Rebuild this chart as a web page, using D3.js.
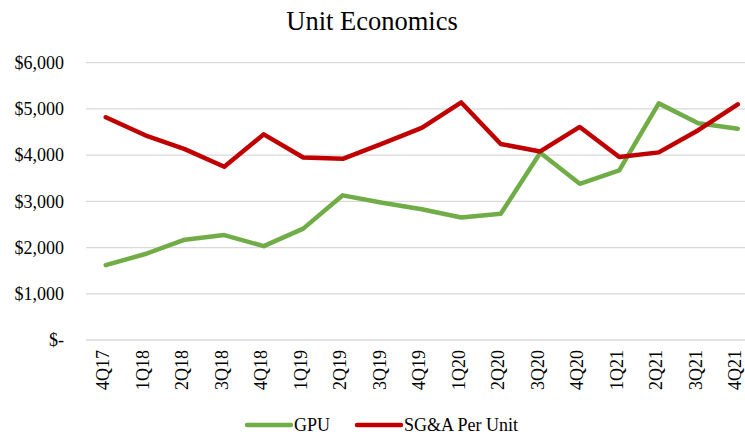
<!DOCTYPE html>
<html>
<head>
<meta charset="utf-8">
<script src="https://cdn.jsdelivr.net/npm/d3@7"></script>
<style>
  body { margin: 0; background: #fff; }
  svg { display: block; font-family: "Liberation Serif", "Times New Roman", serif; }
</style>
</head>
<body>
<svg id="chart"></svg>
<script>
// quarters along the x axis
var quarters = ["4Q17", "1Q18", "2Q18", "3Q18", "4Q18", "1Q19", "2Q19", "3Q19", "4Q19",
                "1Q20", "2Q20", "3Q20", "4Q20", "1Q21", "2Q21", "3Q21", "4Q21"];

// gross profit per unit
var gpu = [1620, 1860, 2170, 2270, 2030, 2410, 3130, 2970, 2830,
           2650, 2730, 4050, 3380, 3670, 5120, 4690, 4570];

// SG&A per unit
var sgaPerUnit = [4820, 4430, 4130, 3750, 4450, 3950, 3920, 4250, 4590,
                  5140, 4240, 4080, 4610, 3960, 4060, 4540, 5100];

var yTicks = [0, 1000, 2000, 3000, 4000, 5000, 6000];

var seriesNames = ["GPU", "SG&A Per Unit"];
var seriesColors = ["#70ad47", "#c00000"];

var W = 745, H = 435;
var plot = {left: 86, top: 62.7, bottom: 340, step: 39.5};

var svg = d3.select("#chart").attr("width", W).attr("height", H);

var xscale = d3.scaleBand()
    .domain(quarters)
    .range([plot.left, plot.left + quarters.length * plot.step]);

var yscale = d3.scaleLinear()
    .domain([0, 6000])
    .range([plot.bottom, plot.top]);

// title
svg.append("text")
    .attr("x", 372)
    .attr("y", 30)
    .attr("text-anchor", "middle")
    .style("font-size", "26.5px")
    .text("Unit Economics");

// gridlines
svg.append("g").selectAll("line")
    .data(yTicks)
    .enter().append("line")
    .attr("x1", plot.left)
    .attr("x2", xscale.range()[1])
    .attr("y1", function(d) { return yscale(d); })
    .attr("y2", function(d) { return yscale(d); })
    .style("stroke", "#d9d9d9")
    .style("stroke-width", 1.3);

// y axis labels
var fmt = d3.format(",");
var yaxis = d3.axisLeft(yscale)
    .tickValues(yTicks)
    .tickSize(0)
    .tickPadding(0)
    .tickFormat(function(d) { return d === 0 ? "$-" : "$" + fmt(d); });

svg.append("g")
    .attr("class", "y axis")
    .attr("transform", "translate(64,0)")
    .call(yaxis)
    .call(function(g) { g.select(".domain").remove(); })
    .selectAll("text")
    .style("font-family", "Liberation Serif, serif")
    .style("font-size", "18px")
    .style("fill", "#000");

// x axis labels, rotated (sit a touch left of the tick, like the original)
var xaxis = d3.axisBottom(xscale).tickSize(0);
svg.append("g")
    .attr("class", "x axis")
    .attr("transform", "translate(0," + plot.bottom + ")")
    .call(xaxis)
    .call(function(g) { g.select(".domain").remove(); })
    .selectAll("text")
    .attr("transform", "rotate(-90)")
    .attr("x", -10)
    .attr("y", 0)
    .attr("dy", ".2em")
    .style("text-anchor", "end")
    .style("font-family", "Liberation Serif, serif")
    .style("font-size", "18px")
    .style("fill", "#000");

// lines
var line = d3.line()
    .x(function(d, i) { return xscale(quarters[i]) + xscale.bandwidth() / 2; })
    .y(function(d) { return yscale(d); });

[gpu, sgaPerUnit].forEach(function(values, i) {
  svg.append("path")
      .datum(values)
      .attr("d", line)
      .style("fill", "none")
      .style("stroke", seriesColors[i])
      .style("stroke-width", 4.5)
      .style("stroke-linejoin", "round")
      .style("stroke-linecap", "round");
});

// legend
var legendX = [247, 357];
var legend = svg.selectAll(".legend")
    .data(seriesNames)
    .enter().append("g")
    .attr("class", "legend")
    .attr("transform", function(d, i) { return "translate(" + legendX[i] + ",425)"; });

legend.append("line")
    .attr("x1", 0).attr("x2", 44)
    .attr("y1", 0).attr("y2", 0)
    .style("stroke", function(d, i) { return seriesColors[i]; })
    .style("stroke-width", 4.5)
    .style("stroke-linecap", "round");

legend.append("text")
    .attr("x", 47)
    .attr("y", 0)
    .attr("dy", ".35em")
    .style("font-size", "18px")
    .text(function(d) { return d; });
</script>
</body>
</html>
